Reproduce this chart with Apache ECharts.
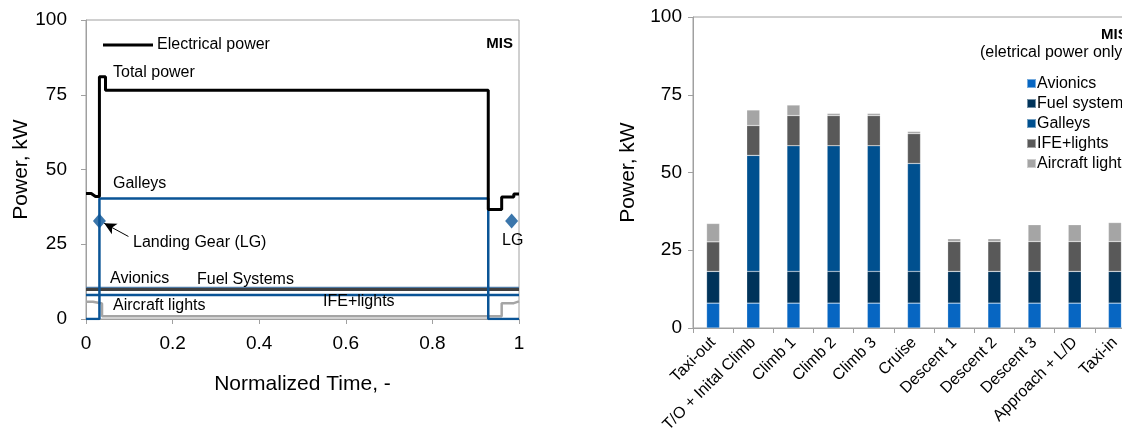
<!DOCTYPE html>
<html><head><meta charset="utf-8">
<script src="https://cdn.jsdelivr.net/npm/echarts@6/dist/echarts.min.js"></script>
<style>html,body{margin:0;padding:0;background:#fff;overflow:hidden;width:1122px;height:432px}#c{width:1145px;height:432px}</style>
</head><body><div id="c"></div>
<script>
// ---- Left chart: power profiles over normalized time ----
const totalPower = [[0,42],[0.012,42],[0.022,41],[0.031,41],[0.031,81],[0.045,81],[0.045,76.5],[0.929,76.5],[0.929,36.6],[0.96,36.6],[0.96,40.8],[0.988,40.8],[0.988,41.8],[1,41.8]];
const galleysLine = [[0,0],[0.031,0],[0.031,40.3],[0.929,40.3],[0.929,0],[1,0]];
const avionicsLine = [[0,8],[1,8]];
const fuelLine = [[0,10.6],[1,10.6]];
const ifeLine = [[0,9.9],[1,9.9]];
const lightsLine = [[0,5.8],[0.016,5.8],[0.02,5.2],[0.037,5.2],[0.037,0.9],[0.96,0.9],[0.96,5.3],[0.988,5.3],[0.988,5.9],[1,5.9]];
const landingGear = [[0.031,32.8],[0.983,32.8]];
const leftXTicks = [0,0.2,0.4,0.6,0.8,1];
const leftYTicks = [0,25,50,75,100];

// ---- Right chart: stacked bars per flight phase ----
const phases = ['Taxi-out','T/O + Inital Climb','Climb 1','Climb 2','Climb 3','Cruise','Descent 1','Descent 2','Descent 3','Approach + L/D','Taxi-in'];
const avionics = [8,8,8,8,8,8,8,8,8,8,8];
const fuelSystems = [10.2,10.2,10.2,10.2,10.2,10.2,10.2,10.2,10.2,10.2,10.2];
const galleys = [0,37.3,40.4,40.4,40.4,34.7,0,0,0,0,0];
const ifeLights = [9.5,9.6,9.7,9.7,9.7,9.6,9.6,9.6,9.6,9.6,9.6];
const aircraftLights = [5.9,5.0,3.4,0.7,0.7,0.7,0.9,0.9,5.4,5.4,6.1];
const barNames = ['Avionics','Fuel system','Galleys','IFE+lights','Aircraft lights'];
const barColors = ['#0766C2','#00335A','#00508F','#595959','#A5A5A5'];

const FONT = '"Liberation Sans", Arial, sans-serif';
const axisGray = '#A0A0A0';

const chart = echarts.init(document.getElementById('c'), null, {renderer:'canvas'});

function txt(x, y, s, opts) {
  return Object.assign({type:'text', x:x, y:y, z:100, style:Object.assign({text:s, fill:'#000', font:'16px ' + FONT, textVerticalAlign:'middle', textAlign:'left'}, opts||{})});
}

const barSeries = [avionics, fuelSystems, galleys, ifeLights, aircraftLights].map((d,i)=>({
  name: barNames[i], type:'bar', stack:'p', xAxisIndex:1, yAxisIndex:1, data:d, barWidth:13,
  itemStyle:{color:barColors[i], borderColor:'rgba(255,255,255,0.45)', borderWidth:0.5}
}));

chart.setOption({
  animation:false,
  textStyle:{fontFamily:FONT},
  grid:[
    {left:86, top:20, width:433, height:299, show:true, borderColor:axisGray, borderWidth:1, containLabel:false, outerBoundsMode:'none'},
    {left:693, top:17, width:442, height:311, show:true, borderColor:axisGray, borderWidth:1, containLabel:false, outerBoundsMode:'none'}
  ],
  legend:[
    {data:[{name:'Electrical power', icon:'rect'}], left:98, top:32, itemWidth:50, itemHeight:3, itemGap:4,
     itemStyle:{color:'#000'},
     textStyle:{fontSize:16, color:'#000', fontFamily:FONT, padding:[0,0,0,-1]}},
    {data:barNames, orient:'vertical', left:1021, top:70, itemWidth:9, itemHeight:9, itemGap:3, icon:'rect',
     textStyle:{fontSize:16, color:'#000', fontFamily:FONT, lineHeight:17, padding:[0,0,0,-4]}}
  ],
  xAxis:[
    {gridIndex:0, type:'value', min:0, max:1, interval:0.2,
     name:'Normalized Time, -', nameLocation:'middle', nameGap:55, nameTextStyle:{fontSize:21, color:'#000', fontFamily:FONT},
     axisLine:{lineStyle:{color:axisGray, width:1}}, axisTick:{show:true, length:5, lineStyle:{color:axisGray}},
     axisLabel:{fontSize:19, color:'#000', margin:15, fontFamily:FONT}, splitLine:{show:false}},
    {gridIndex:1, type:'category', data:phases, boundaryGap:true,
     axisLine:{lineStyle:{color:axisGray, width:1}}, axisTick:{show:true, length:5, alignWithLabel:false, lineStyle:{color:axisGray}},
     axisLabel:{fontSize:16, color:'#000', rotate:45, interval:0, margin:12, fontFamily:FONT}}
  ],
  yAxis:[
    {gridIndex:0, type:'value', min:0, max:100, interval:25,
     name:'Power, kW', nameLocation:'middle', nameGap:54, nameTextStyle:{fontSize:21, color:'#000', fontFamily:FONT},
     axisLine:{show:true, lineStyle:{color:axisGray}}, axisTick:{show:true, length:5, lineStyle:{color:axisGray}},
     axisLabel:{fontSize:19, color:'#000', margin:19, fontFamily:FONT}, splitLine:{show:false}},
    {gridIndex:1, type:'value', min:0, max:100, interval:25,
     name:'Power, kW', nameLocation:'middle', nameGap:54, nameTextStyle:{fontSize:21, color:'#000', fontFamily:FONT},
     axisLine:{show:true, lineStyle:{color:axisGray}}, axisTick:{show:true, length:5, lineStyle:{color:axisGray}},
     axisLabel:{fontSize:19, color:'#000', margin:11, fontFamily:FONT}, splitLine:{show:false}}
  ],
  series:[
    {name:'Aircraft lights line', type:'line', xAxisIndex:0, yAxisIndex:0, data:lightsLine, symbol:'none', lineStyle:{color:'#A5A5A5', width:2.5}, z:2},
    {name:'IFE line', type:'line', xAxisIndex:0, yAxisIndex:0, data:ifeLine, symbol:'none', lineStyle:{color:'#404040', width:3}, z:3},
    {name:'Fuel line', type:'line', xAxisIndex:0, yAxisIndex:0, data:fuelLine, symbol:'none', lineStyle:{color:'#4F7BA6', width:1.2}, z:3},
    {name:'Avionics line', type:'line', xAxisIndex:0, yAxisIndex:0, data:avionicsLine, symbol:'none', lineStyle:{color:'#0A5496', width:2.5}, z:4},
    {name:'Galleys line', type:'line', xAxisIndex:0, yAxisIndex:0, data:galleysLine, symbol:'none', lineStyle:{color:'#0A5496', width:2.5}, z:5},
    {name:'Electrical power', type:'line', xAxisIndex:0, yAxisIndex:0, data:totalPower, symbol:'none', showSymbol:false, lineStyle:{color:'#000', width:3}, itemStyle:{color:'#000'}, z:6},
    {name:'Landing gear', type:'scatter', xAxisIndex:0, yAxisIndex:0, data:landingGear, symbol:'diamond', symbolSize:[13,15], itemStyle:{color:'#0A5496'}, z:7,
     markLine:{silent:true, symbol:['none','arrow'], symbolSize:[9,12], label:{show:false},
       lineStyle:{color:'#000', width:1, type:'solid'},
       data:[[{coord:[0.098,27.6]},{coord:[0.042,32.0]}]]}},
    ...barSeries
  ],
  graphic:[
    txt(513, 44, 'MIS', {font:'bold 15px ' + FONT, textAlign:'right'}),
    txt(113, 73, 'Total power'),
    txt(113, 184, 'Galleys'),
    txt(133, 243, 'Landing Gear (LG)'),
    txt(502, 241, 'LG'),
    txt(110, 279, 'Avionics'),
    txt(197, 280, 'Fuel Systems'),
    txt(113, 306, 'Aircraft lights'),
    txt(323, 302, 'IFE+lights'),
    txt(1101, 35, 'MIS', {font:'bold 15px ' + FONT}),
    txt(980, 53, '(eletrical power only)')
  ]
});
</script></body></html>
